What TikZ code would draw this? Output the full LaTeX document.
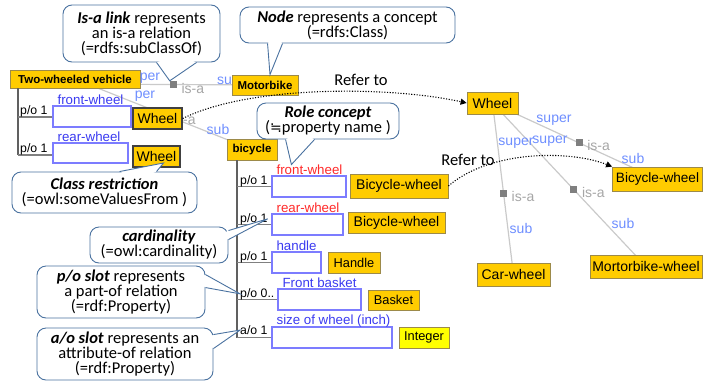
\documentclass[tikz,border=0pt]{standalone}
\usepackage{fontspec}
\setmainfont{Carlito}
\newfontfamily\arialf{Liberation Sans}
\newfontfamily\calibf{Carlito}
\newfontfamily\dejaf{DejaVu Sans}
\usetikzlibrary{arrows.meta,calc,backgrounds}
\definecolor{nodegold}{HTML}{FFCC00}
\definecolor{nodeedge}{HTML}{9C8A4A}
\definecolor{intyellow}{HTML}{FFFF00}
\definecolor{slotedge}{HTML}{7C7CFF}
\definecolor{slottext}{HTML}{3A3AF0}
\definecolor{roletext}{HTML}{FF2A2A}
\definecolor{reltext}{HTML}{6E8EFF}
\definecolor{isatext}{HTML}{A6A6A6}
\definecolor{isaline}{HTML}{CACACA}
\definecolor{isasq}{HTML}{7F7F7F}
\definecolor{framegray}{HTML}{606060}
\definecolor{callblue}{HTML}{4A72A0}
\tikzset{
  cls/.style={draw=nodeedge, line width=0.8pt, fill=nodegold, inner sep=0pt, font=\arialf\fontsize{14}{15}\selectfont},
  clsb/.style={cls, font=\arialf\bfseries\fontsize{11.5}{12}\selectfont},
  clsw/.style={cls, draw=black!75, line width=1.3pt},
  clssm/.style={cls, font=\arialf\fontsize{12.8}{13}\selectfont},
  slotbox/.style={draw=slotedge, line width=1.2pt, fill=white, inner sep=0pt},
  slotlbl/.style={anchor=base west, inner sep=0pt, text=slottext, font=\arialf\fontsize{13.3}{14}\selectfont},
  rolelbl/.style={slotlbl, text=roletext},
  card/.style={anchor=base west, inner sep=0pt, font=\arialf\fontsize{12.3}{13}\selectfont},
  vframe/.style={draw=framegray, line width=1.5pt},
  hframe/.style={draw=framegray!80, line width=1.5pt},
  isal/.style={draw=isaline, line width=1.2pt},
  isasquare/.style={fill=isasq, minimum size=7pt, inner sep=0pt},
  isalbl/.style={anchor=west, inner sep=0pt, text=isatext, font=\arialf\fontsize{14}{15}\selectfont},
  rellbl/.style={inner sep=0pt, text=reltext, font=\arialf\fontsize{14}{15}\selectfont},
  callbox/.style={draw=callblue, line width=0.9pt, fill=white, rounded corners=9pt, align=center, inner sep=0pt, font=\calibf\fontsize{16.5}{15}\selectfont},
  callptr/.style={draw=callblue, line width=0.9pt, line join=miter},
  refer/.style={draw=black, line width=1.1pt, dash pattern=on 1.1pt off 1.6pt, -{Triangle[length=6pt,width=6pt]}},
  refertxt/.style={inner sep=0pt, font=\calibf\fontsize{16.5}{16}\selectfont},
}
\newcommand\bi[1]{\textbf{\textit{#1}}}
\newcommand\calloutptr[4]{%
  \fill[white] #1 -- #2 -- #3 -- #4 -- cycle;
  \draw[callptr] #1 -- #2 -- #3;}
\begin{document}
\begin{tikzpicture}[x=1pt,y=-1pt]
\useasboundingbox (0,0) rectangle (703,381);

% ---- class nodes (left) ----
\node[clsb, minimum width=130pt, minimum height=18pt] (tw) at (75,79) {Two-wheeled vehicle};
\node[clsb, minimum width=66pt, minimum height=20pt] (mb) at (265,85) {Motorbike};
\node[clsb, minimum width=50pt, minimum height=21pt] (bc) at (252,149.5) {bicycle};
\node[clsw, minimum width=49pt, minimum height=21pt] (wl1) at (157.5,118.5) {Wheel};
\node[clsw, minimum width=47pt, minimum height=21pt] (wl2) at (156.5,156.5) {Wheel};
\node[cls, minimum width=98pt, minimum height=24pt] (bw1) at (399,186) {Bicycle-wheel};
\node[cls, minimum width=97pt, minimum height=21pt] (bw2) at (396.5,222.5) {Bicycle-wheel};
\node[clssm, minimum width=52pt, minimum height=21pt] (hd) at (354,262.5) {Handle};
\node[clssm, minimum width=51pt, minimum height=20pt] (bk) at (393.5,300) {Basket};
\node[clssm, fill=intyellow, minimum width=50pt, minimum height=21pt] (ig) at (424,337.5) {Integer};

% ---- class nodes (right) ----
\node[cls, minimum width=51pt, minimum height=22pt] (wr) at (492.5,103) {Wheel};
\node[cls, font=\arialf\fontsize{13.6}{15}\selectfont, minimum width=90pt, minimum height=24pt] (bwr) at (657.5,179) {Bicycle-wheel};
\node[cls, minimum width=73pt, minimum height=23pt] (cw) at (513.5,274.5) {Car-wheel};
\node[cls, minimum width=112pt, minimum height=23pt] (mw) at (646,266.5) {Mortorbike-wheel};

% ---- is-a links (behind nodes) ----
\coordinate (twc) at ([yshift=-5pt]tw.center);
\begin{scope}[on background layer]
\draw[isal] (twc) -- (mb.center);
\draw[isal] (tw.center) -- (bc.center);
\draw[isal] (wr.center) -- (cw.center);
\draw[isal] (wr.center) -- (mw.center);
\draw[isal] (wr.center) -- (bwr.center);
\end{scope}
\path (twc) -- (mb.center) coordinate[pos=0.518] (q1);
\path (wr.center) -- (cw.center) coordinate[pos=0.525] (qa);
\path (wr.center) -- (mw.center) coordinate[pos=0.53] (qb);
\path (wr.center) -- (bwr.center) coordinate[pos=0.525] (qc);
\node[isasquare] (sq1) at (q1) {};
\node[isasquare] (sqa) at (qa) {};
\node[isasquare] (sqb) at (qb) {};
\node[isasquare] (sqc) at (qc) {};
\node[isalbl] (il1) at ([xshift=8pt,yshift=-4pt]q1) {is-a};
\node[isalbl] (ila) at ([xshift=8pt,yshift=-3pt]qa) {is-a};
\node[isalbl] (ilb) at ([xshift=8pt,yshift=-3pt]qb) {is-a};
\node[isalbl] (ilc) at ([xshift=8pt,yshift=-3pt]qc) {is-a};
\node[isalbl] (il2) at (183,121) {-a};
% super / sub labels
\node[rellbl] (r1) at (150,78) {per};
\node[rellbl] (r2) at (145,96) {per};
\node[rellbl, anchor=east] (r3) at (232,81) {su};
\node[rellbl] (r4) at (218,129) {sub};
\node[rellbl] (r5) at (516,143) {super};
\node[rellbl] (r6) at (550,141) {super};
\node[rellbl] (r7) at (554,120) {super};
\node[rellbl] (r8) at (521,228) {sub};
\node[rellbl] (r9) at (623,223) {sub};
\node[rellbl] (r10) at (633,158) {sub};

% ---- slot boxes ----
\node[slotbox, minimum width=78pt, minimum height=21pt] (s1) at (92,116.5) {};
\node[slotbox, minimum width=75pt, minimum height=20pt] (s2) at (90.5,153) {};
\node[slotbox, minimum width=74pt, minimum height=21pt] (s3) at (309,186.5) {};
\node[slotbox, minimum width=71pt, minimum height=21pt] (s4) at (307.5,224.5) {};
\node[slotbox, minimum width=49pt, minimum height=21pt] (s5) at (296.5,262.5) {};
\node[slotbox, minimum width=83pt, minimum height=21pt] (s6) at (319.5,299.5) {};
\node[slotbox, minimum width=120pt, minimum height=21pt] (s7) at (332,337.5) {};

% ---- slot frames ----
\coordinate (tv0) at (18,88);
\coordinate (tv1) at (18,117);
\coordinate (tv2) at (18,155);
\draw[vframe] (tv0) -- (tv2);
\draw[hframe] (tv1) -- (s1.west |- tv1);
\draw[hframe] (tv2) -- (s2.west |- tv2);
\coordinate (bv0) at (237,160);
\coordinate (bv5) at (237,337.5);
\draw[vframe] (bv0) -- (bv5);
\draw[hframe] (bv0 |- s3.west) -- (s3.west);
\draw[hframe] (bv0 |- s4.west) -- (s4.west);
\draw[hframe] (bv0 |- s5.west) -- (s5.west);
\draw[hframe] (bv0 |- s6.west) -- (s6.west);
\draw[hframe] (bv0 |- s7.west) -- (s7.west);

% ---- cardinalities ----
\node[card] (pl1) at (20,114) {p/o 1};
\node[card] (pl2) at (20,152) {p/o 1};
\node[card] (pc1) at (240,184) {p/o 1};
\node[card] (pc2) at (240,222) {p/o 1};
\node[card] (pc3) at (240,260) {p/o 1};
\node[card] (pc4) at (240,297) {p/o 0..};
\node[card] (ao) at (240,334.5) {a/o 1};

% ---- slot labels ----
\node[slotlbl] (l1) at ([xshift=5pt,yshift=1pt]s1.north west) {front-wheel};
\node[slotlbl] (l2) at ([xshift=5pt,yshift=1pt]s2.north west) {rear-wheel};
\node[rolelbl] (rl1) at ([xshift=5pt,yshift=1pt]s3.north west) {front-wheel};
\node[rolelbl] (rl2) at ([xshift=5pt,yshift=1pt]s4.north west) {rear-wheel};
\node[slotlbl] (l5) at ([xshift=5pt,yshift=1pt]s5.north west) {handle};
\node[slotlbl] (l6) at ([xshift=5pt,yshift=1pt]s6.north west) {Front basket};
\node[slotlbl] (l7) at ([xshift=5pt,yshift=2pt]s7.north west) {size of wheel (inch)};

% ---- refer-to arrows ----
\draw[refer] (wl1.east) .. controls (250,85) and (390,86) .. (wr.west);
\node[refertxt] (rt1) at (361,80) {Refer to};
\draw[refer] (bw1.east) .. controls (490,150) and (570,150) .. (bwr.north west);
\node[refertxt] (rt2) at (468,160) {Refer to};

% ---- callouts ----
\node[callbox, minimum width=157pt, minimum height=57pt] (c1) at (141.5,33.5)
  {\bi{Is-a link} represents\\an is-a relation\\(=rdfs:subClassOf)};
\calloutptr{([xshift=94pt]c1.south west)}{(sq1.north west)}{([xshift=134pt]c1.south west)}{([xshift=114pt,yshift=8pt]c1.south west)}

\node[callbox, minimum width=215pt, minimum height=36pt] (c2) at (347.5,25)
  {\bi{Node} represents a concept\\(=rdfs:Class)};
\calloutptr{([xshift=28pt]c2.south west)}{([xshift=5pt]mb.north)}{([xshift=43pt]c2.south west)}{([xshift=35pt,yshift=8pt]c2.south west)}

\node[callbox, minimum width=185pt, minimum height=41pt] (c3) at (104.5,192.5)
  {\bi{Class restriction}\\(=owl:someValuesFrom )};
\calloutptr{([xshift=108pt]c3.north west)}{([xshift=7pt,yshift=-6.5pt]wl2.center)}{([xshift=145pt]c3.north west)}{([xshift=126pt,yshift=-8pt]c3.north west)}

\node[callbox, minimum width=142pt, minimum height=36pt] (c4) at (328,121)
  {\bi{Role concept}\\({\dejaf\fontsize{14}{15}\selectfont ≒}property name )};
\calloutptr{([xshift=29pt]c4.south west)}{([xshift=15pt]rl1.north west)}{([xshift=58pt]c4.south west)}{([xshift=44pt,yshift=8pt]c4.south west)}

\node[callbox, minimum width=138pt, minimum height=36pt] (c5) at (159,245)
  {\bi{cardinality}\\(=owl:cardinality)};
\calloutptr{([yshift=-4pt]c5.north east)}{(pc2.east)}{([yshift=-13pt]c5.north east)}{([xshift=-10pt,yshift=-9pt]c5.north east)}

\node[callbox, minimum width=168pt, minimum height=52pt] (c6) at (121,292)
  {\bi{p/o slot} represents\\a part-of relation\\(=rdf:Property)};
\calloutptr{([yshift=-9pt]c6.north east)}{(pc4.west)}{([yshift=-22pt]c6.north east)}{([xshift=-10pt,yshift=-15pt]c6.north east)}

\node[callbox, minimum width=176pt, minimum height=52pt] (c7) at (125,354)
  {\bi{a/o slot} represents an\\attribute-of relation\\(=rdf:Property)};
\calloutptr{([yshift=-7pt]c7.north east)}{(ao.west)}{([yshift=-21pt]c7.north east)}{([xshift=-10pt,yshift=-14pt]c7.north east)}
\end{tikzpicture}
\end{document}
